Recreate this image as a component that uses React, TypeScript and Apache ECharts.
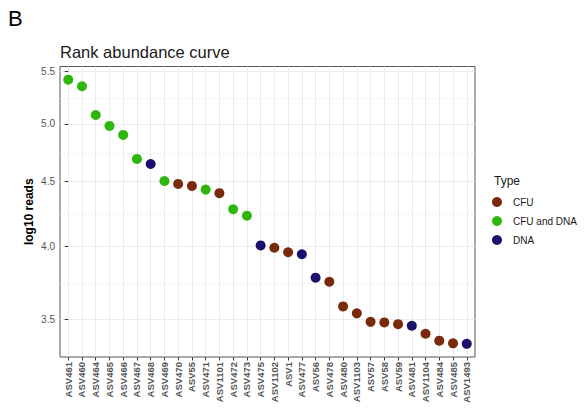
import React, { useEffect, useRef } from "react";
import * as echarts from "echarts";

const categories = [
  "ASV461", "ASV460", "ASV464", "ASV465", "ASV466", "ASV467", "ASV468", "ASV469",
  "ASV470", "ASV55", "ASV471", "ASV1101", "ASV472", "ASV473", "ASV475", "ASV1102",
  "ASV1", "ASV477", "ASV56", "ASV478", "ASV480", "ASV1103", "ASV57", "ASV58",
  "ASV59", "ASV481", "ASV1104", "ASV484", "ASV485", "ASV1493",
];
const log10Reads = [
  5.42, 5.356, 5.082, 4.982, 4.901, 4.691, 4.648, 4.506,
  4.482, 4.466, 4.436, 4.407, 4.28, 4.23, 4.007, 3.99,
  3.957, 3.943, 3.778, 3.75, 3.585, 3.54, 3.486, 3.482,
  3.471, 3.461, 3.411, 3.368, 3.352, 3.349,
];
const sampleTypes = [
  "CFU and DNA", "CFU and DNA", "CFU and DNA", "CFU and DNA", "CFU and DNA", "CFU and DNA", "DNA", "CFU and DNA",
  "CFU", "CFU", "CFU and DNA", "CFU", "CFU and DNA", "CFU and DNA", "DNA", "CFU",
  "CFU", "DNA", "DNA", "CFU", "CFU", "CFU", "CFU", "CFU",
  "CFU", "DNA", "CFU", "CFU", "CFU", "DNA",
];
const typeNames = ["CFU", "CFU and DNA", "DNA"];
const typeColors = ["#7A290B", "#2DB70C", "#1B106E"];
const yTickLabels = [3.5, 4.0, 4.5, 5.0, 5.5];

const FONT = "'Liberation Sans', Arial, sans-serif";

export default function App() {
  const ref = useRef<HTMLDivElement>(null);
  useEffect(() => {
    if (!ref.current) return;
    const chart = echarts.init(ref.current, null, { renderer: "svg" });

    const tr = log10Reads.map((v) => Math.log10(v));
    const lo = Math.min(...tr);
    const hi = Math.max(...tr);
    const pad = (hi - lo) * 0.05;
    const yMin = lo - pad;
    const yMax = hi + pad;
    const xIdx = categories.map((_, i) => i);
    const majorY = yTickLabels.map((v) => Math.log10(v));
    const minorY: number[] = [];
    for (let i = 0; i < yTickLabels.length - 1; i++) {
      minorY.push(Math.log10(Math.sqrt(yTickLabels[i] * yTickLabels[i + 1])));
    }

    const series = typeNames.map((t, k) => ({
      name: t,
      type: "scatter",
      symbol: "circle",
      symbolSize: 10,
      itemStyle: { color: typeColors[k], opacity: 1 },
      data: categories
        .map((_, i) => (sampleTypes[i] === t ? [i, tr[i]] : null))
        .filter((d) => d !== null),
    }));

    chart.setOption({
      animation: false,
      backgroundColor: "#ffffff",
      textStyle: { fontFamily: FONT },
      title: [
        {
          text: "B",
          left: 8,
          top: 7,
          padding: 0,
          textStyle: { fontSize: 22, fontWeight: "normal", color: "#000", fontFamily: FONT },
        },
        {
          text: "Rank abundance curve",
          left: 60,
          top: 43,
          padding: 0,
          textStyle: { fontSize: 16.5, fontWeight: "normal", color: "#1a1a1a", fontFamily: FONT },
        },
        {
          text: "Type",
          left: 494,
          top: 175,
          padding: 0,
          textStyle: { fontSize: 12, fontWeight: "normal", color: "#1a1a1a", fontFamily: FONT },
        },
      ],
      legend: {
        data: typeNames,
        orient: "vertical",
        left: 492,
        top: 197,
        padding: 0,
        itemWidth: 22,
        itemHeight: 10,
        itemGap: 9,
        icon: "circle",
        textStyle: { fontSize: 10, color: "#1a1a1a", fontFamily: FONT },
      },
      grid: {
        left: 60,
        top: 66.5,
        width: 415,
        height: 290.5,
        show: true,
        borderColor: "#555555",
        borderWidth: 1,
        backgroundColor: "#ffffff",
      },
      xAxis: {
        type: "value",
        min: -0.6,
        max: categories.length - 1 + 0.6,
        axisLine: { show: false },
        axisTick: {
          show: true,
          length: 3.5,
          lineStyle: { color: "#333333" },
          customValues: xIdx,
        },
        axisLabel: {
          customValues: xIdx,
          rotate: 90,
          margin: 5,
          fontSize: 9.5,
          fontWeight: "bold",
          color: "#555555",
          fontFamily: FONT,
          formatter: (v: number) => categories[Math.round(v)] ?? "",
        },
        splitLine: { show: true, lineStyle: { color: "#EBEBEB", width: 1 } },
      },
      yAxis: [
        {
          type: "value",
          min: yMin,
          max: yMax,
          name: "log10 reads",
          nameLocation: "middle",
          nameGap: 25,
          nameMoveOverlap: false,
          nameTextStyle: { fontSize: 12, fontWeight: "bold", color: "#000", fontFamily: FONT },
          axisLine: { show: false },
          axisTick: {
            show: true,
            length: 3.5,
            lineStyle: { color: "#333333" },
            customValues: majorY,
          },
          axisLabel: {
            customValues: majorY,
            margin: 5,
            fontSize: 10,
            color: "#555555",
            fontFamily: FONT,
            formatter: (v: number) => Math.pow(10, v).toFixed(1),
          },
          splitLine: { show: true, lineStyle: { color: "#EBEBEB", width: 1 } },
        },
        {
          type: "value",
          min: yMin,
          max: yMax,
          position: "left",
          axisLine: { show: false },
          axisTick: { show: false, customValues: minorY },
          axisLabel: { show: false, customValues: minorY },
          splitLine: { show: true, lineStyle: { color: "#F0F0F0", width: 0.7 } },
        },
      ],
      series,
    });

    return () => chart.dispose();
  }, []);

  return (
    <div
      ref={ref}
      style={{ position: "fixed", left: 0, top: 0, width: 586, height: 409, background: "#fff" }}
    />
  );
}
